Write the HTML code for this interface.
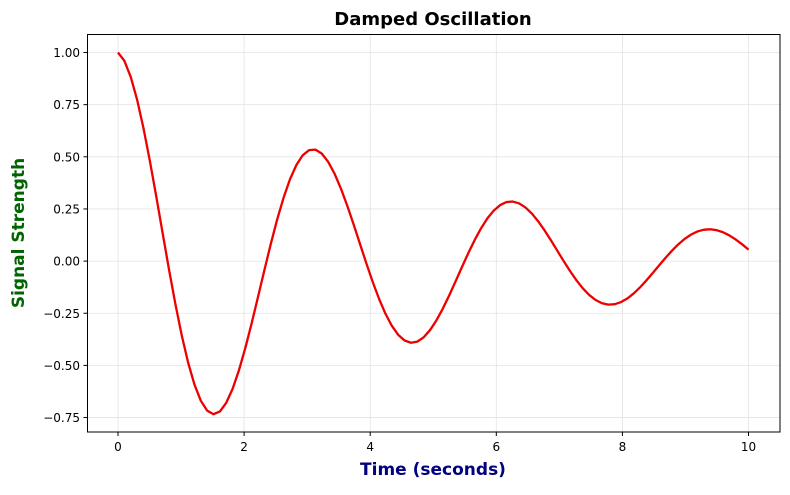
<!DOCTYPE html>
<html><head><meta charset="utf-8"><style>
body{margin:0;background:#fff;}
text{font-family:"DejaVu Sans","Liberation Sans",sans-serif;}
</style></head><body>
<svg id="s" width="790" height="490" xmlns="http://www.w3.org/2000/svg">
<rect width="790" height="490" fill="#fff"/>
<g id="grid" stroke="#e3e3e3" stroke-width="0.8"></g>
<polyline id="line" fill="none" stroke="#ee0000" stroke-width="2.3" stroke-linejoin="round"/>
<rect x="87.5" y="34.5" width="692.5" height="397.5" fill="none" stroke="#000" stroke-width="1"/>
<g id="ticks" font-size="12" fill="#000"></g>
<text x="433" y="25" text-anchor="middle" font-size="18" font-weight="bold">Damped Oscillation</text>
<text x="433" y="475" text-anchor="middle" font-size="17" font-weight="bold" fill="#000080">Time (seconds)</text>
<text transform="translate(24,233) rotate(-90)" text-anchor="middle" font-size="17" font-weight="bold" fill="#006400">Signal Strength</text>
</svg>
<script>
var X=function(t){return 118+63.05*t}, Y=function(v){return 261.1-208.6*v};
var ns="http://www.w3.org/2000/svg",g=document.getElementById('grid'),tk=document.getElementById('ticks');
function el(p,n,a,txt){var e=document.createElementNS(ns,n);for(var k in a)e.setAttribute(k,a[k]);if(txt!=null)e.textContent=txt;p.appendChild(e);}
for(var t=0;t<=10;t+=2){var x=X(t);el(g,'line',{x1:x,x2:x,y1:34.5,y2:432});el(tk,'line',{x1:x,x2:x,y1:432,y2:436,stroke:'#000'});el(tk,'text',{x:x,y:451,'text-anchor':'middle'},String(t));}
for(var i=-3;i<=4;i++){var v=i*0.25,y=Y(v);el(g,'line',{x1:87.5,x2:780,y1:y,y2:y});el(tk,'line',{x1:83.5,x2:87.5,y1:y,y2:y,stroke:'#000'});el(tk,'text',{x:80,y:y+4.5,'text-anchor':'end'},(v<0?'\u2212':'')+Math.abs(v).toFixed(2));}
var pts=[];for(var k=0;k<100;k++){var t=10*k/99;pts.push(X(t).toFixed(2)+','+Y(Math.exp(-0.2*t)*Math.cos(2*t)).toFixed(2));}
document.getElementById('line').setAttribute('points',pts.join(' '));
</script>
</body></html>
